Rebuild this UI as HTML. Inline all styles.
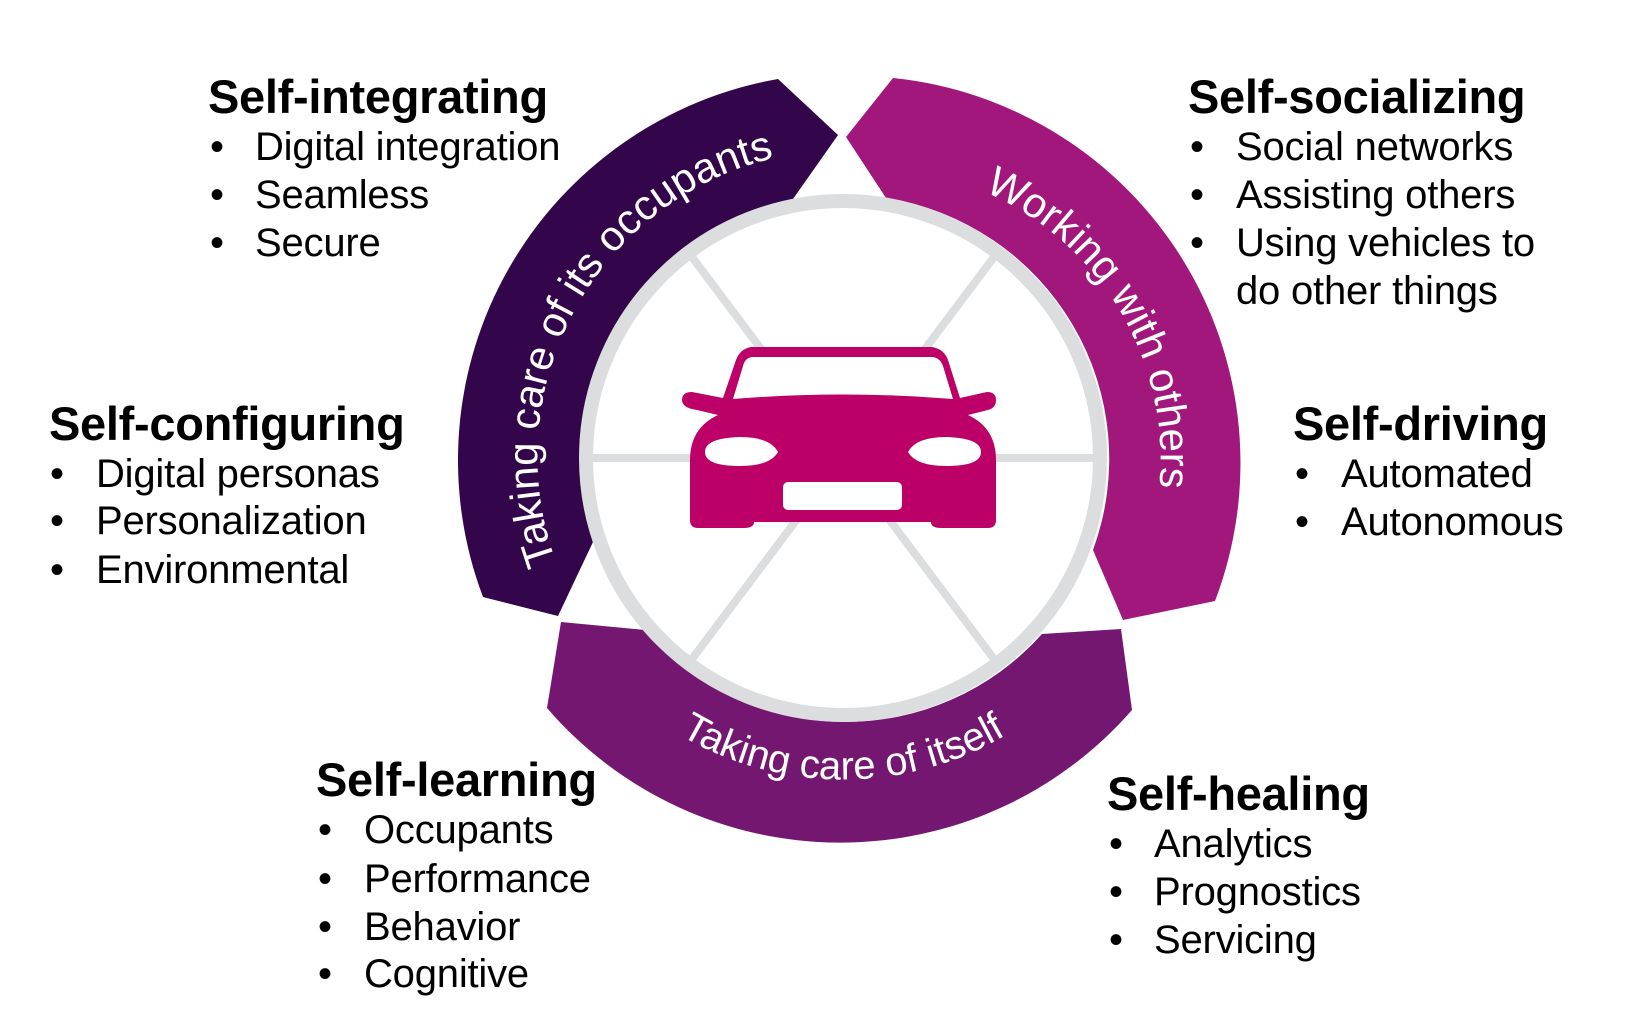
<!DOCTYPE html>
<html><head><meta charset="utf-8"><style>
html,body{margin:0;padding:0;background:#fff;}
body{width:1648px;height:1018px;position:relative;overflow:hidden;font-family:"Liberation Sans",Arial,sans-serif;color:#000;}
.h{position:absolute;font-weight:bold;font-size:47px;line-height:48px;white-space:nowrap;letter-spacing:-0.3px}
.i{position:absolute;font-size:40px;line-height:48px;white-space:nowrap;letter-spacing:-0.2px}
.b{position:absolute;font-size:40px;line-height:48px;}
svg{position:absolute;left:0;top:0}
</style></head><body>
<svg width="1648" height="1018" viewBox="0 0 1648 1018">
<defs>
<path id="p1" d="M 566 586 A 307 307 0 0 1 800 153"/>
<path id="p2" d="M 880 168 A 292 292 0 0 1 1130 590"/>
<path id="p3" d="M 565 619 A 321 321 0 0 0 1121 619"/>
</defs>
<path d="M 483 597 A 387 387 0 0 1 778 79 L 838 135 L 793 199 A 264 264 0 0 0 593 542 L 558 616 Z" fill="#33054A"/>
<path d="M 846 137 L 893 78 A 387 387 0 0 1 1215 601 L 1123 620 L 1093 550 A 264 264 0 0 0 886 198 Z" fill="#A1177B"/>
<path d="M 561 622 L 547 708 A 387 387 0 0 0 1132 710 L 1121 629 L 1042 634 A 264 264 0 0 1 645 630 Z" fill="#731770"/>
<g stroke="#DCDDDE" stroke-width="8">
<line x1="586" y1="458" x2="1100" y2="458"/>
<line x1="843" y1="458" x2="689" y2="253"/>
<line x1="843" y1="458" x2="997" y2="253"/>
<line x1="843" y1="458" x2="689" y2="663"/>
<line x1="843" y1="458" x2="997" y2="663"/>
</g>
<circle cx="843" cy="458" r="257" fill="none" stroke="#DCDDDE" stroke-width="14"/>
<g fill="#BC0068">
<path d="M 751 347 L 932 347 Q 944 349 948 360 L 960 398 L 987 392 Q 996 392 996 400 Q 996 408 988 410 L 968 415 Q 996 428 996 460 L 996 520 Q 996 528 988 528 L 941 528 Q 931 528 931 522 L 754 522 Q 754 528 744 528 L 698 528 Q 690 528 690 520 L 690 460 Q 690 428 718 415 L 697 410 Q 682 408 682 400 Q 682 392 692 392 L 723 398 L 736 360 Q 740 349 751 347 Z"/>
</g>
<path d="M 752 357 L 933 357 Q 940 358 943 366 L 953 399 Q 843 390 733 399 L 743 366 Q 745 358 752 357 Z" fill="#fff"/>
<path d="M 705 452 Q 705 438 740 437 Q 770 437 778 452 Q 770 466 740 466 Q 705 466 705 452 Z" fill="#fff"/>
<path d="M 981 452 Q 981 438 946 437 Q 916 437 908 452 Q 916 466 946 466 Q 981 466 981 452 Z" fill="#fff"/>
<rect x="783" y="482" width="119" height="28" rx="5" fill="#fff"/>
<g fill="#fff" font-family="Liberation Sans, Arial, sans-serif">
<text font-size="42"><textPath href="#p1" startOffset="50%" text-anchor="middle">Taking care of its occupants</textPath></text>
<text font-size="42"><textPath href="#p2" startOffset="50%" text-anchor="middle">Working with others</textPath></text>
<text font-size="40"><textPath href="#p3" startOffset="50%" text-anchor="middle">Taking care of itself</textPath></text>
</g>
</svg>

<div class="h" style="left:208px;top:73px">Self-integrating</div>
<div class="b" style="left:210px;top:123px">•</div><div class="i" style="left:255px;top:123px">Digital integration</div>
<div class="b" style="left:210px;top:171px">•</div><div class="i" style="left:255px;top:171px">Seamless</div>
<div class="b" style="left:210px;top:219px">•</div><div class="i" style="left:255px;top:219px">Secure</div>

<div class="h" style="left:49px;top:400px">Self-configuring</div>
<div class="b" style="left:50px;top:450px">•</div><div class="i" style="left:96px;top:450px">Digital personas</div>
<div class="b" style="left:50px;top:497px">•</div><div class="i" style="left:96px;top:497px">Personalization</div>
<div class="b" style="left:50px;top:546px">•</div><div class="i" style="left:96px;top:546px">Environmental</div>

<div class="h" style="left:316px;top:756px">Self-learning</div>
<div class="b" style="left:318px;top:806px">•</div><div class="i" style="left:364px;top:806px">Occupants</div>
<div class="b" style="left:318px;top:855px">•</div><div class="i" style="left:364px;top:855px">Performance</div>
<div class="b" style="left:318px;top:903px">•</div><div class="i" style="left:364px;top:903px">Behavior</div>
<div class="b" style="left:318px;top:950px">•</div><div class="i" style="left:364px;top:950px">Cognitive</div>

<div class="h" style="left:1188px;top:73px">Self-socializing</div>
<div class="b" style="left:1190px;top:123px">•</div><div class="i" style="left:1236px;top:123px">Social networks</div>
<div class="b" style="left:1190px;top:171px">•</div><div class="i" style="left:1236px;top:171px">Assisting others</div>
<div class="b" style="left:1190px;top:219px">•</div><div class="i" style="left:1236px;top:219px">Using vehicles to</div>
<div class="i" style="left:1236px;top:267px">do other things</div>

<div class="h" style="left:1293px;top:400px">Self-driving</div>
<div class="b" style="left:1295px;top:450px">•</div><div class="i" style="left:1341px;top:450px">Automated</div>
<div class="b" style="left:1295px;top:498px">•</div><div class="i" style="left:1341px;top:498px">Autonomous</div>

<div class="h" style="left:1107px;top:770px">Self-healing</div>
<div class="b" style="left:1109px;top:820px">•</div><div class="i" style="left:1154px;top:820px">Analytics</div>
<div class="b" style="left:1109px;top:868px">•</div><div class="i" style="left:1154px;top:868px">Prognostics</div>
<div class="b" style="left:1109px;top:916px">•</div><div class="i" style="left:1154px;top:916px">Servicing</div>
</body></html>
